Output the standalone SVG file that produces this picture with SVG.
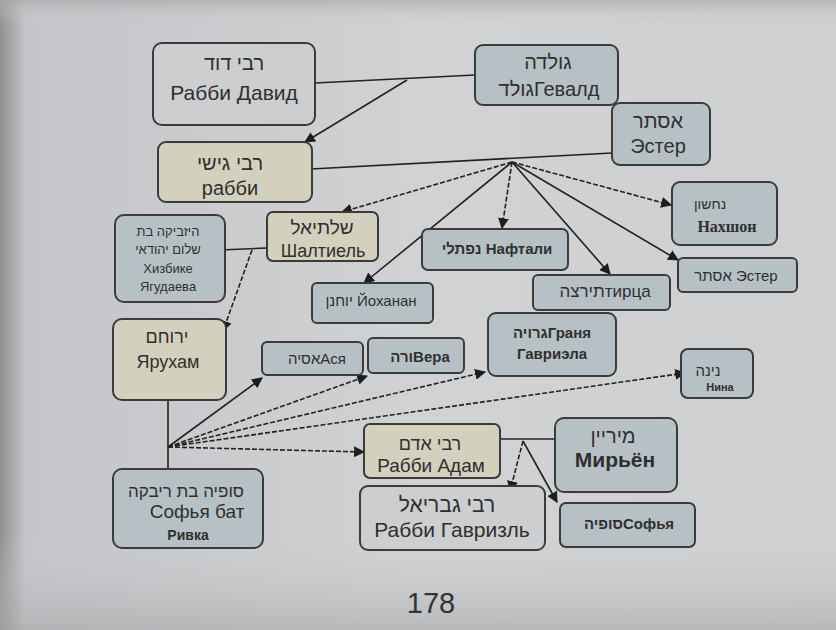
<svg xmlns="http://www.w3.org/2000/svg" width="836" height="630" viewBox="0 0 836 630">
<defs>
<linearGradient id="bgx" x1="0" y1="0" x2="1" y2="0">
<stop offset="0" stop-color="#8f9092"/>
<stop offset="0.03" stop-color="#c4c5c8"/>
<stop offset="0.5" stop-color="#d1d2d4"/>
<stop offset="1" stop-color="#cfd0d2"/>
</linearGradient>
<linearGradient id="bgy" x1="0" y1="0" x2="0" y2="1">
<stop offset="0" stop-color="#a9aaac" stop-opacity="0.7"/>
<stop offset="0.04" stop-color="#cfd0d2" stop-opacity="0"/>
<stop offset="0.85" stop-color="#cfd0d2" stop-opacity="0"/>
<stop offset="1" stop-color="#a7a8aa" stop-opacity="0.6"/>
</linearGradient>
<marker id="ah" viewBox="0 0 10 10" refX="9" refY="5" markerWidth="11" markerHeight="11" markerUnits="userSpaceOnUse" orient="auto">
<path d="M0,0 L10,5 L0,10 z" fill="#1e1e1e"/>
</marker>
</defs>
<style>
.b{stroke:#3b3b3b;stroke-width:2}
.g{fill:#cdcecf}
.c{fill:#b7c1c5}
.y{fill:#d3d1bd}
text{font-family:"Liberation Sans","DejaVu Sans",sans-serif;fill:#2f2f2f;text-anchor:middle}
.bd{font-weight:bold}
.sf{font-family:"Liberation Serif","DejaVu Serif",serif}
.l{stroke:#222;stroke-width:1.6;fill:none}
.d{stroke-dasharray:5 2}
.a{marker-end:url(#ah)}
</style>
<rect width="836" height="630" fill="url(#bgx)"/>
<rect width="836" height="630" fill="url(#bgy)"/>

<g id="connectors">
<path class="l" d="M315,83 L475,75"/>
<path class="l a" d="M407,80 L305,142"/>
<path class="l" d="M311,169 L612,153"/>
<path class="l d a" d="M512,162 L342,212"/>
<path class="l a" d="M512,162 L364,283"/>
<path class="l d a" d="M512,162 L502,228"/>
<path class="l a" d="M512,162 L610,274"/>
<path class="l a" d="M512,162 L678,260"/>
<path class="l d a" d="M512,162 L671,205"/>
<path class="l" d="M220,250 L267,248"/>
<path class="l d a" d="M252,250 L223,331"/>
<path class="l" d="M168,400 L168,469"/>
<path class="l a" d="M168,447 L262,378"/>
<path class="l d a" d="M168,447 L367,376"/>
<path class="l d a" d="M168,447 L485,372"/>
<path class="l d a" d="M168,447 L685,373"/>
<path class="l d a" d="M168,447 L364,452"/>
<path class="l" d="M487,439 L556,439"/>
<path class="l d a" d="M523,441 L510,491"/>
<path class="l a" d="M523,441 L557,502"/>
</g>

<g id="david"><rect class="b g" x="153" y="43" width="162" height="82" rx="9"/>
<text x="234" y="70" font-size="20">רבי דוד</text>
<text x="234" y="100" font-size="21">Рабби Давид</text></g>

<g id="golda"><rect class="b c" x="475" y="45" width="143" height="60" rx="8"/>
<text x="548" y="69" font-size="20">גולדה</text>
<text x="549" y="96" font-size="20">גולדГевалд</text></g>

<g id="gishi"><rect class="b y" x="158" y="142" width="154" height="60" rx="8"/>
<text x="230" y="170" font-size="20">רבי גישי</text>
<text x="230" y="195" font-size="20">рабби</text></g>

<g id="ester1"><rect class="b c" x="612" y="103" width="98" height="62" rx="8"/>
<text x="658" y="128" font-size="20">אסתר</text>
<text x="658" y="153" font-size="20">Эстер</text></g>

<g id="nachshon"><rect class="b c" x="672" y="182" width="105" height="63" rx="8"/>
<text x="710" y="209" font-size="14">נחשון</text>
<text x="727" y="232" font-size="16" class="sf bd">Нахшон</text></g>

<g id="ester2"><rect class="b c" x="678" y="258" width="119" height="34" rx="5"/>
<text x="736" y="281" font-size="15">אסתר Эстер</text></g>

<g id="shaltiel"><rect class="b y" x="267" y="212" width="111" height="49" rx="6"/>
<text x="322" y="234" font-size="19">שלתיאל</text>
<text x="323" y="257" font-size="18">Шалтиель</text></g>

<g id="hizbike"><rect class="b c" x="115" y="215" width="110" height="87" rx="9"/>
<text x="168" y="236" font-size="13">היזביקה בת</text>
<text x="168" y="254" font-size="13">שלום יהודאי</text>
<text x="168" y="273" font-size="13">Хизбике</text>
<text x="168" y="291" font-size="13">Ягудаева</text></g>

<g id="naftali"><rect class="b c" x="422" y="229" width="146" height="41" rx="6"/>
<text x="497" y="254" font-size="15" class="bd">נפתלי Нафтали</text></g>

<g id="yochanan"><rect class="b c" x="312" y="283" width="121" height="40" rx="5"/>
<text x="371" y="306" font-size="15">יוחנן Йоханан</text></g>

<g id="tirtsa"><rect class="b c" x="533" y="275" width="137" height="35" rx="5"/>
<text x="605" y="297" font-size="17">תירצהтирца</text></g>

<g id="yerucham"><rect class="b y" x="113" y="319" width="113" height="81" rx="9"/>
<text x="167" y="343" font-size="18">ירוחם</text>
<text x="168" y="368" font-size="18">Ярухам</text></g>

<g id="asya"><rect class="b c" x="262" y="342" width="101" height="33" rx="5"/>
<text x="317" y="364" font-size="15">אסיהАся</text></g>

<g id="vera"><rect class="b c" x="368" y="338" width="96" height="35" rx="5"/>
<text x="420" y="362" font-size="15" class="bd">ורהВера</text></g>

<g id="gavriela"><rect class="b c" x="488" y="313" width="128" height="63" rx="8"/>
<text x="552" y="338" font-size="15" class="bd">גרויהГраня</text>
<text x="552" y="359" font-size="15" class="bd">Гавриэла</text></g>

<g id="nina"><rect class="b c" x="681" y="349" width="72" height="49" rx="7"/>
<text x="708" y="376" font-size="15">נינה</text>
<text x="720" y="391" font-size="11" class="bd">Нина</text></g>

<g id="adam"><rect class="b y" x="364" y="424" width="136" height="54" rx="6"/>
<text x="430" y="450" font-size="18">רבי אדם</text>
<text x="431" y="472" font-size="19">Рабби Адам</text></g>

<g id="miriyan"><rect class="b c" x="555" y="418" width="122" height="74" rx="9"/>
<text x="613" y="443" font-size="20">מיריין</text>
<text x="615" y="467" font-size="21" class="bd">Мирьён</text></g>

<g id="sofia"><rect class="b c" x="113" y="469" width="150" height="79" rx="9"/>
<text x="186" y="497" font-size="17">סופיה בת ריבקה</text>
<text x="197" y="518" font-size="19">Софья бат</text>
<text x="188" y="540" font-size="14" class="bd">Ривка</text></g>

<g id="gavriel"><rect class="b g" x="360" y="486" width="185" height="64" rx="8"/>
<text x="447" y="512" font-size="21">רבי גבריאל</text>
<text x="452" y="537" font-size="21">Рабби Гавризль</text></g>

<g id="sofya"><rect class="b c" x="560" y="503" width="135" height="44" rx="6"/>
<text x="629" y="529" font-size="15" class="bd">סופיהСофья</text></g>

<text x="431" y="613" font-size="29" style="fill:#333">178</text>
</svg>
